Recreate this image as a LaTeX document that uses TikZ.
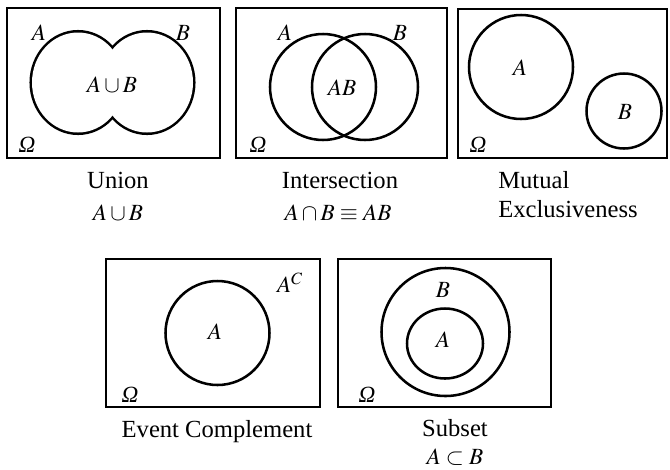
\documentclass[tikz,border=0pt]{standalone}
\usepackage{mathptmx}
\usepackage{fontspec}
\setmainfont{Liberation Serif}

\begin{document}
\begin{tikzpicture}[x=0.025cm,y=-0.025cm,line width=1.8pt,
  frame/.style={line width=2pt},
  setlbl/.style={font=\fontsize{16.5}{19}\selectfont,inner sep=0pt},
  caption/.style={font=\fontsize{17.5}{21}\selectfont,inner sep=0pt}]
  \useasboundingbox (0,0) rectangle (670,469);
  % union
  \draw[frame] (7,8) rectangle (220,158);
  \draw[line width=3.6pt] (78,82.5) ellipse[x radius=46,y radius=50];
  \draw[line width=3.6pt] (147,82.5) ellipse[x radius=46,y radius=50];
  \fill[white] (78,82.5) ellipse[x radius=46,y radius=50];
  \fill[white] (147,82.5) ellipse[x radius=46,y radius=50];
  \node[setlbl] (uA) at (39,33) {$A$};
  \node[setlbl] (uB) at (183,33) {$B$};
  \node[setlbl] (uAB) at (112,85) {$A\cup B$};
  \node[setlbl] (uOm) at (27,145) {\itshape Ω};
  \node[caption] (uCap) at (118,180) {Union};
  \node[setlbl] (uEq) at (118,213) {$A\cup B$};
  % intersection
  \draw[frame] (236,8) rectangle (447,158);
  \draw (323,87) circle[radius=53];
  \draw (365,87) circle[radius=53];
  \node[setlbl] (iA) at (285,33) {$A$};
  \node[setlbl] (iB) at (400,33) {$B$};
  \node[setlbl] (iAB) at (342,88) {$AB$};
  \node[setlbl] (iOm) at (258,145) {\itshape Ω};
  \node[caption] (iCap) at (340,180) {Intersection};
  \node[setlbl] (iEq) at (338,213) {$A\cap B\equiv AB$};
  % mutual exclusiveness
  \draw[frame] (458,9) rectangle (667,158);
  \draw (521,67) circle[radius=52];
  \draw (624,111) circle[radius=37.5];
  \node[setlbl] (mA) at (520,68) {$A$};
  \node[setlbl] (mB) at (625,112) {$B$};
  \node[setlbl] (mOm) at (478,145) {\itshape Ω};
  \node[caption,anchor=west] (mCap) at (497,180) {Mutual};
  \node[caption,anchor=west] (mCap2) at (497,209) {Exclusiveness};
  % complement
  \draw[frame] (106,259) rectangle (320,407);
  \draw (217.5,333) circle[radius=52];
  \node[setlbl] (cA) at (215,332) {$A$};
  \node[setlbl] (cAc) at (290,283) {$A^{C}$};
  \node[setlbl] (cOm) at (130,395) {\itshape Ω};
  \node[caption] (cCap) at (217,432) {Event Complement};
  % subset
  \draw[frame] (338,259) rectangle (551,407);
  \draw (445.5,332) circle[radius=64];
  \draw (445,343.5) ellipse[x radius=38,y radius=35];
  \node[setlbl] (sB) at (443,290) {$B$};
  \node[setlbl] (sA) at (443,340) {$A$};
  \node[setlbl] (sOm) at (367,395) {\itshape Ω};
  \node[caption] (sCap) at (455,428) {Subset};
  \node[setlbl] (sEq) at (455,457) {$A\subset B$};
\end{tikzpicture}
\end{document}
